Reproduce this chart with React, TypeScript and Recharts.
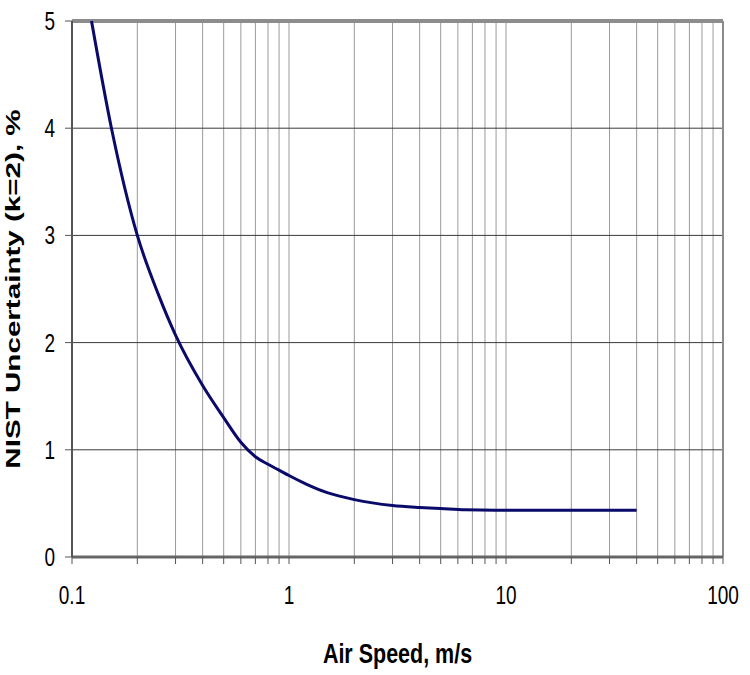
import React from 'react';
import { LineChart, Line, XAxis, YAxis, CartesianGrid, ReferenceLine, Label } from 'recharts';

// air speed (m/s) and NIST expanded uncertainty (k=2, %)
const speeds = [0.123, 0.152, 0.2, 0.25, 0.3, 0.4, 0.5, 0.6, 0.7, 0.8, 0.9, 1, 1.2, 1.5, 2, 3, 4, 5, 6.5, 10, 20, 40];
const uncertainty = [5.0, 4.0, 3.0, 2.45, 2.07, 1.6, 1.3, 1.07, 0.935, 0.865, 0.81, 0.76, 0.68, 0.6, 0.535, 0.48, 0.462, 0.452, 0.44, 0.437, 0.437, 0.437];

const xTicks = [
  0.1, 0.2, 0.3, 0.4, 0.5, 0.6, 0.7, 0.8, 0.9,
  1, 2, 3, 4, 5, 6, 7, 8, 9,
  10, 20, 30, 40, 50, 60, 70, 80, 90,
  100,
];
const xLabels = [0.1, 1, 10, 100];
const yTicks = [0, 1, 2, 3, 4, 5];

const data = speeds.map((s, i) => ({ speed: s, unc: uncertainty[i] }));

const FONT = '"Liberation Sans", Arial, sans-serif';
const STRETCH = 1.35;

function XTick({ x, y, payload }: any) {
  if (!xLabels.includes(payload.value)) return null;
  return (
    <text
      transform={`translate(${x},${y + 38}) scale(1,${STRETCH})`}
      textAnchor="middle"
      fontFamily={FONT}
      fontSize={19}
      fill="#000"
    >
      {String(payload.value)}
    </text>
  );
}

function YTick({ x, y, payload }: any) {
  return (
    <text
      transform={`translate(${x},${y + 9}) scale(1,${STRETCH})`}
      textAnchor="end"
      fontFamily={FONT}
      fontSize={19}
      fill="#000"
    >
      {String(payload.value)}
    </text>
  );
}

function YTitle({ viewBox }: any) {
  const cy = viewBox.y + viewBox.height / 2;
  return (
    <text
      transform={`translate(20,${cy}) rotate(-90) scale(1.48,1)`}
      textAnchor="middle"
      fontFamily={FONT}
      fontWeight="bold"
      fontSize={20}
      fill="#000"
    >
      NIST Uncertainty (k=2), %
    </text>
  );
}

function XTitle({ viewBox }: any) {
  const cx = viewBox.x + viewBox.width / 2;
  return (
    <text
      transform={`translate(${cx},663) scale(1,1.32)`}
      textAnchor="middle"
      fontFamily={FONT}
      fontWeight="bold"
      fontSize={21.5}
      fill="#000"
    >
      Air Speed, m/s
    </text>
  );
}

export default function App() {
  return (
    <div style={{ position: 'absolute', left: 0, top: 0, background: '#fff' }}>
      <LineChart
        width={750}
        height={675}
        data={data}
        margin={{ top: 21, right: 27, bottom: 0, left: 0 }}
      >
        <CartesianGrid horizontal={false} stroke="#9a9a9a" strokeWidth={1} />
        <CartesianGrid vertical={false} stroke="#3a3a3a" strokeWidth={1} />
        <XAxis
          dataKey="speed"
          type="number"
          scale="log"
          domain={[0.1, 100]}
          ticks={xTicks}
          interval={0}
          allowDataOverflow
          height={118}
          tick={<XTick />}
          tickSize={7}
          tickLine={{ stroke: '#555' }}
          axisLine={{ stroke: '#666', strokeWidth: 3 }}
        >
          <Label content={<XTitle />} />
        </XAxis>
        <YAxis
          type="number"
          domain={[0, 5]}
          ticks={yTicks}
          interval={0}
          width={72}
          tick={<YTick />}
          tickSize={7}
          tickMargin={10}
          tickLine={{ stroke: '#555' }}
          axisLine={{ stroke: '#555', strokeWidth: 2 }}
        >
          <Label content={<YTitle />} />
        </YAxis>
        <ReferenceLine y={5} stroke="#8c8c8c" strokeWidth={4} />
        <ReferenceLine x={100} stroke="#8c8c8c" strokeWidth={2} />
        <Line
          type="monotone"
          dataKey="unc"
          stroke="#0a0a6a"
          strokeWidth={3}
          dot={false}
          isAnimationActive={false}
        />
      </LineChart>
    </div>
  );
}
